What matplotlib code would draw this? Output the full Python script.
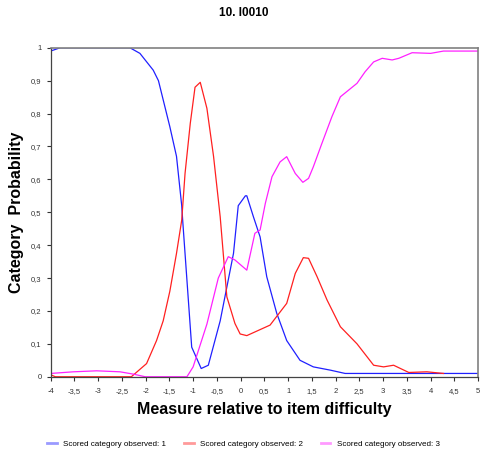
import numpy as np
import matplotlib.pyplot as plt
from matplotlib.ticker import FuncFormatter

# category probability curves
x_blue = [-4.0, -3.8, -2.33, -2.12, -1.84, -1.73, -1.49, -1.35, -1.24, -1.22, -1.03, -0.83,
          -0.68, -0.43, -0.15, -0.05, 0.1, 0.13, 0.27, 0.41, 0.55, 0.76, 0.97, 1.25, 1.53,
          1.89, 2.2, 5.0]
y_blue = [0.99, 1.0, 1.0, 0.983, 0.932, 0.90, 0.76, 0.67, 0.52, 0.476, 0.09, 0.025,
          0.035, 0.17, 0.375, 0.52, 0.55, 0.55, 0.486, 0.425, 0.304, 0.193, 0.11, 0.05, 0.03,
          0.02, 0.01, 0.01]

x_red = [-4.0, -3.9, -2.3, -2.26, -1.98, -1.77, -1.63, -1.49, -1.35, -1.24, -1.17, -1.06,
         -0.96, -0.85, -0.71, -0.57, -0.43, -0.29, -0.12, -0.01, 0.13, 0.62, 0.97, 1.15,
         1.32, 1.43, 1.61, 1.82, 2.1, 2.45, 2.8, 3.01, 3.22, 3.54, 3.92, 4.27]
y_red = [0.006, 0.0, 0.0, 0.005, 0.04, 0.11, 0.17, 0.26, 0.375, 0.476, 0.618, 0.77,
         0.88, 0.895, 0.816, 0.67, 0.486, 0.243, 0.162, 0.13, 0.125, 0.157, 0.223, 0.314,
         0.362, 0.36, 0.304, 0.233, 0.152, 0.10, 0.035, 0.03, 0.035, 0.013, 0.015, 0.01]

x_mag = [-4.0, -3.52, -3.03, -2.54, -2.26, -2.01, -1.13, -1.0, -0.71, -0.47, -0.26, -0.12,
         0.13, 0.3, 0.41, 0.52, 0.66, 0.83, 0.97, 1.15, 1.31, 1.43, 1.53, 1.71, 1.92, 2.1,
         2.45, 2.62, 2.8, 2.98, 3.19, 3.33, 3.61, 4.0, 4.27, 5.0]
y_mag = [0.01, 0.015, 0.018, 0.015, 0.008, 0.0, 0.0, 0.03, 0.16, 0.30, 0.365, 0.355,
         0.324, 0.436, 0.446, 0.527, 0.608, 0.653, 0.669, 0.618, 0.591, 0.603, 0.638, 0.709,
         0.79, 0.851, 0.892, 0.927, 0.957, 0.968, 0.963, 0.968, 0.985, 0.983, 0.99, 0.99]

labels = ["Scored category observed: 1", "Scored category observed: 2",
          "Scored category observed: 3"]
x_ticks = np.arange(-4, 5.01, 0.5)
y_ticks = np.arange(0, 1.01, 0.1)

plt.rcParams['font.family'] = ['Liberation Sans', 'DejaVu Sans']

fig = plt.figure(figsize=(4.82, 4.55), dpi=100)
ax = fig.add_axes([0.105, 0.172, 0.887, 0.723])

ax.plot(x_blue, y_blue, color='#2020ff', lw=0.9, label=labels[0])
ax.plot(x_red, y_red, color='#ff2020', lw=0.9, label=labels[1])
ax.plot(x_mag, y_mag, color='#ff20ff', lw=0.9, label=labels[2])

ax.set_xlim(-4, 5)
ax.set_ylim(0, 1)
ax.set_xticks(x_ticks)
ax.set_yticks(y_ticks)
comma = FuncFormatter(lambda v, p: ('%g' % round(v, 2)).replace('.', ','))
ax.xaxis.set_major_formatter(comma)
ax.yaxis.set_major_formatter(comma)
ax.tick_params(labelsize=5.5, colors='#333333', length=3, width=0.8)
ax.tick_params(axis='x', pad=8.5)
for lab in ax.get_xticklabels():
    lab.set_va('baseline')

for s in ['top', 'right']:
    ax.spines[s].set_color('#808080')
    ax.spines[s].set_linewidth(1.2)
for s in ['left', 'bottom']:
    ax.spines[s].set_color('#444444')
    ax.spines[s].set_linewidth(0.9)

fig.suptitle("10. I0010", x=0.505, y=0.985, fontsize=8.5, fontweight='bold')
ax.set_xlabel("Measure relative to item difficulty", fontsize=11.5, fontweight='bold', labelpad=5.5)
ax.set_ylabel("Category  Probability", fontsize=11.5, fontweight='bold', labelpad=5)

leg = fig.legend(loc='lower center', bbox_to_anchor=(0.505, 0.0), ncol=3, fontsize=5.8,
                 frameon=False, handlelength=1.2, columnspacing=2.2, handletextpad=0.8)
for h in leg.legend_handles:
    h.set_alpha(0.45)
    h.set_linewidth(2)

fig.savefig("out.png", dpi=100)
